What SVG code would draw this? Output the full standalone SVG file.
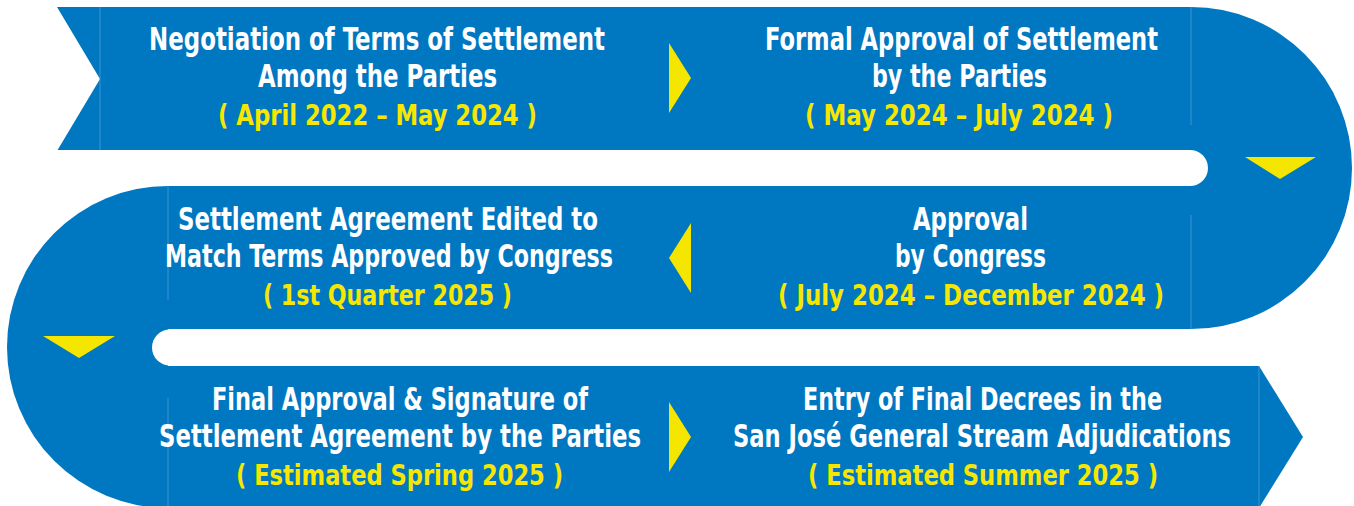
<svg xmlns="http://www.w3.org/2000/svg" width="1354" height="506" viewBox="0 0 1354 506">
<style>
.band{fill:#0077c1}
.gap{fill:#ffffff}
.seam{stroke:#5aa2dc;stroke-width:1;opacity:0.7}
.tri{fill:#f5e600}
text{font-family:"Liberation Sans Narrow","DejaVu Sans Condensed","Liberation Sans",sans-serif;font-weight:bold}
.t{fill:#ffffff;font-size:32px}
.d{fill:#f7e700;font-size:28px}
</style>
<rect x="0" y="0" width="1354" height="506" fill="#ffffff"/>
<g id="band">
<polygon class="band" points="57,7 1192,7 1192,151 57,151 100,79"/>
<path class="band" d="M1191,7 A161,161 0 0 1 1191,329 Z"/>
<rect class="band" x="167" y="185" width="1025" height="144"/>
<path class="band" d="M168,186 A161,161 0 0 0 168,508 Z"/>
<polygon class="band" points="167,366 1259,366 1303,437 1259,508 167,508"/>
<rect class="gap" x="-40" y="150" width="1248" height="36" rx="18"/>
<rect class="gap" x="152" y="329.5" width="1300" height="36" rx="18"/>
<line class="seam" x1="100" y1="7" x2="100" y2="150"/>
<line class="seam" x1="1191" y1="7" x2="1191" y2="125"/>
<line class="seam" x1="1191" y1="215" x2="1191" y2="329"/>
<line class="seam" x1="168" y1="186" x2="168" y2="300"/>
<line class="seam" x1="168" y1="398" x2="168" y2="506"/>
<line class="seam" x1="1259" y1="366" x2="1259" y2="506"/>
</g>
<g id="connectors">
<polygon class="tri" points="669,43 669,113 691,78"/>
<polygon class="tri" points="1245,157 1316,157 1280,179"/>
<polygon class="tri" points="691,223 691,293 669,258"/>
<polygon class="tri" points="43,336 115,336 79,358"/>
<polygon class="tri" points="669,402 669,472 691,437"/>
</g>
<g id="node1">
<text class="t" x="149" y="50" textLength="456" lengthAdjust="spacingAndGlyphs">Negotiation of Terms of Settlement</text>
<text class="t" x="258" y="87" textLength="239" lengthAdjust="spacingAndGlyphs">Among the Parties</text>
<text class="d" x="218" y="125" textLength="319" lengthAdjust="spacingAndGlyphs">( April 2022 – May 2024 )</text>
</g>
<g id="node2">
<text class="t" x="765" y="50" textLength="393" lengthAdjust="spacingAndGlyphs">Formal Approval of Settlement</text>
<text class="t" x="872" y="87" textLength="175" lengthAdjust="spacingAndGlyphs">by the Parties</text>
<text class="d" x="805" y="125" textLength="308" lengthAdjust="spacingAndGlyphs">( May 2024 – July 2024 )</text>
</g>
<g id="node3">
<text class="t" x="913" y="230" textLength="115" lengthAdjust="spacingAndGlyphs">Approval</text>
<text class="t" x="895" y="267" textLength="151" lengthAdjust="spacingAndGlyphs">by Congress</text>
<text class="d" x="778" y="305" textLength="386" lengthAdjust="spacingAndGlyphs">( July 2024 – December 2024 )</text>
</g>
<g id="node4">
<text class="t" x="178" y="230" textLength="420" lengthAdjust="spacingAndGlyphs">Settlement Agreement Edited to</text>
<text class="t" x="165" y="267" textLength="448" lengthAdjust="spacingAndGlyphs">Match Terms Approved by Congress</text>
<text class="d" x="263" y="305" textLength="249" lengthAdjust="spacingAndGlyphs">( 1st Quarter 2025 )</text>
</g>
<g id="node5">
<text class="t" x="212" y="410" textLength="376" lengthAdjust="spacingAndGlyphs">Final Approval &amp; Signature of</text>
<text class="t" x="159" y="447" textLength="482" lengthAdjust="spacingAndGlyphs">Settlement Agreement by the Parties</text>
<text class="d" x="236" y="485" textLength="327" lengthAdjust="spacingAndGlyphs">( Estimated Spring 2025 )</text>
</g>
<g id="node6">
<text class="t" x="803" y="410" textLength="359" lengthAdjust="spacingAndGlyphs">Entry of Final Decrees in the</text>
<text class="t" x="733" y="447" textLength="498" lengthAdjust="spacingAndGlyphs">San José General Stream Adjudications</text>
<text class="d" x="808" y="485" textLength="350" lengthAdjust="spacingAndGlyphs">( Estimated Summer 2025 )</text>
</g>
</svg>
